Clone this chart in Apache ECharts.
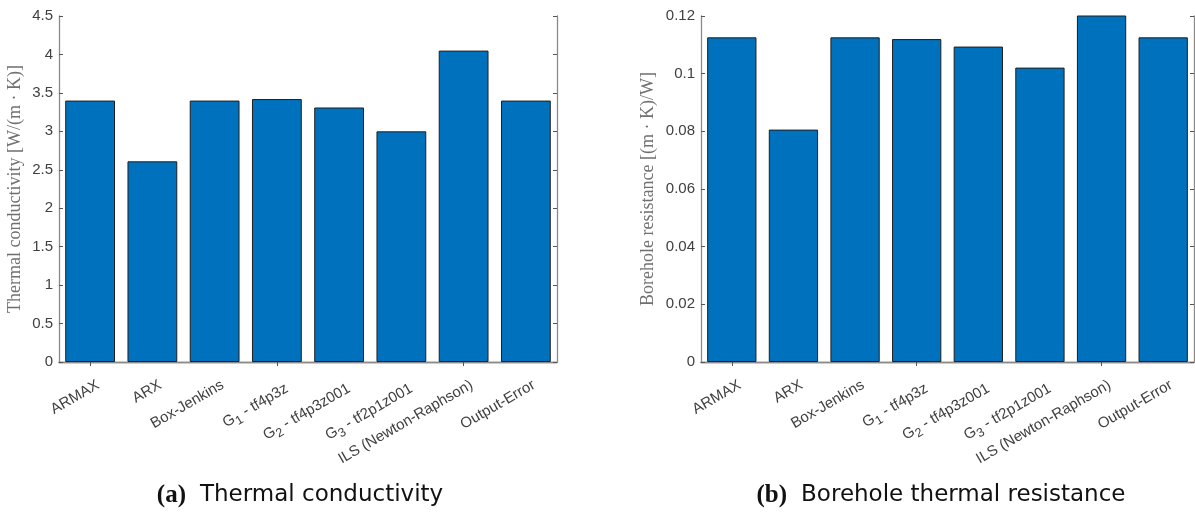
<!DOCTYPE html>
<html>
<head>
<meta charset="utf-8">
<script src="https://cdn.jsdelivr.net/npm/echarts@6/dist/echarts.min.js"></script>
<style>
  html, body { margin: 0; padding: 0; background: #fff; }
  #chart { width: 1195px; height: 512px; }
</style>
</head>
<body>
<div id="chart"></div>
<script>
// Identification methods compared in both panels
const categories = [
  'ARMAX', 'ARX', 'Box-Jenkins', 'G{sub|1} - tf4p3z', 'G{sub|2} - tf4p3z001',
  'G{sub|3} - tf2p1z001', 'ILS (Newton-Raphson)', 'Output-Error'
];
// (a) thermal conductivity, W/(m·K)
const conductivity = [3.40, 2.61, 3.40, 3.42, 3.31, 3.00, 4.05, 3.40];
// (b) borehole thermal resistance, (m·K)/W
const resistance = [0.1126, 0.0806, 0.1126, 0.1120, 0.1094, 0.1021, 0.125, 0.1126];

const condTicks = { min: 0, max: 4.5, interval: 0.5 };
const resTicks = { min: 0, max: 0.12, interval: 0.02 };

const axisGray = '#8a8a8a';
const labelGray = '#404040';
const barBlue = '#0072BD';
const sans = 'Liberation Sans, Arial, sans-serif';
const serif = 'Liberation Serif, DejaVu Serif, serif';
const captionFont = 'DejaVu Sans, sans-serif';

const grids = [
  { left: 59, top: 16, width: 498, height: 346 },
  { left: 701, top: 16, width: 493, height: 346 }
];

function catAxis(gridIndex, position, showLabels) {
  return {
    type: 'category',
    gridIndex,
    position,
    data: categories,
    boundaryGap: true,
    axisLine: { show: true, lineStyle: { color: axisGray, width: 1.3 } },
    axisTick: { show: true, inside: true, length: 4, alignWithLabel: true,
                lineStyle: { color: '#555' } },
    axisLabel: showLabels ? {
      show: true, rotate: 30, interval: 0, margin: 18,
      align: 'right', verticalAlign: 'top', padding: [0, -5, 0, 0],
      color: labelGray, fontFamily: sans, fontSize: 15,
      rich: { sub: { fontSize: 12.5, fontFamily: sans, color: labelGray, verticalAlign: 'bottom', padding: [10, 0, 0, 0] } }
    } : { show: false },
    splitLine: { show: false }
  };
}

function valAxis(gridIndex, position, ticks, name, nameGap, decimals, showLabels) {
  return {
    type: 'value',
    gridIndex,
    position,
    min: ticks.min, max: ticks.max, interval: ticks.interval,
    name: showLabels ? name : '',
    nameLocation: 'middle',
    nameGap,
    nameTextStyle: { fontFamily: serif, fontSize: 18, color: '#707070' },
    axisLine: { show: true, lineStyle: { color: axisGray, width: 1.3 } },
    axisTick: { show: true, inside: true, length: 4, lineStyle: { color: '#555' } },
    axisLabel: showLabels ? {
      show: true, margin: 6, color: labelGray, fontFamily: sans, fontSize: 15,
      formatter: v => Number(v.toFixed(decimals)).toString()
    } : { show: false },
    splitLine: { show: false }
  };
}

const barStyle = { color: barBlue, borderColor: '#1e1e1e', borderWidth: 1 };

function caption(letter, text, centerX) {
  return {
    text: '{b|(' + letter + ')}' + text, left: centerX, top: 478, textAlign: 'center',
    textStyle: { fontFamily: captionFont, fontSize: 23, fontWeight: 'normal', color: '#111',
      rich: { b: { fontFamily: serif, fontSize: 25, fontWeight: 'bold', color: '#111', padding: [0, 14, 0, 0] } } }
  };
}

const option = {
  animation: false,
  backgroundColor: '#ffffff',
  grid: grids,
  xAxis: [
    catAxis(0, 'bottom', true), catAxis(0, 'top', false),
    catAxis(1, 'bottom', true), catAxis(1, 'top', false)
  ],
  yAxis: [
    valAxis(0, 'left', condTicks, 'Thermal conductivity [W/(m · K)]', 35, 1, true),
    valAxis(0, 'right', condTicks, '', 0, 1, false),
    valAxis(1, 'left', resTicks, 'Borehole resistance [(m · K)/W]', 44, 2, true),
    valAxis(1, 'right', resTicks, '', 0, 2, false)
  ],
  series: [
    { type: 'bar', xAxisIndex: 0, yAxisIndex: 0, data: conductivity,
      barWidth: '80%', itemStyle: barStyle, clip: true },
    { type: 'bar', xAxisIndex: 2, yAxisIndex: 2, data: resistance,
      barWidth: '80%', itemStyle: barStyle, clip: true }
  ],
  title: [
    caption('a', 'Thermal conductivity', 295),
    caption('b', 'Borehole thermal resistance', 936)
  ]
};

const chart = echarts.init(document.getElementById('chart'), null, { renderer: 'canvas' });
chart.setOption(option);
</script>
</body>
</html>
